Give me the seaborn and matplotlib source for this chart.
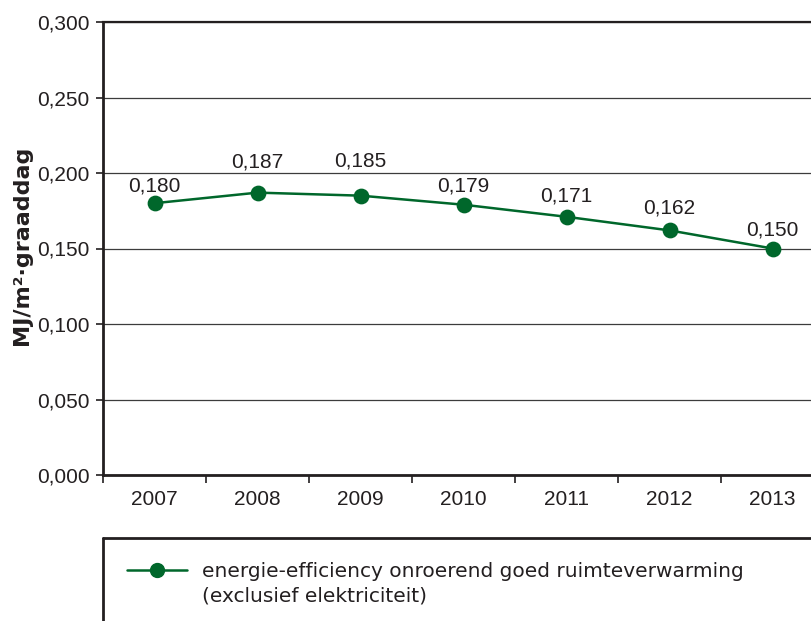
import matplotlib
matplotlib.use("Agg")
import matplotlib.pyplot as plt
import seaborn as sns
import pandas as pd
from matplotlib.lines import Line2D
from matplotlib.ticker import FixedLocator

# ---- data ----
years = ["2007", "2008", "2009", "2010", "2011", "2012", "2013"]
values = [0.180, 0.187, 0.185, 0.179, 0.171, 0.162, 0.150]
value_labels = ["0,180", "0,187", "0,185", "0,179", "0,171", "0,162", "0,150"]
y_ticks = [0.000, 0.050, 0.100, 0.150, 0.200, 0.250, 0.300]
y_tick_labels = ["0,000", "0,050", "0,100", "0,150", "0,200", "0,250", "0,300"]
y_label = "MJ/m²·graaddag"
series_label_lines = ["energie-efficiency onroerend goed ruimteverwarming",
                      "(exclusief elektriciteit)"]

# label offsets above points (pixels)
label_offsets = [17, 31, 35, 19, 21, 22, 19]

GREEN = "#00672b"
DARK = "#231f20"
FS = 15

sns.set_theme(style="white")
plt.rcParams['font.family'] = ['Liberation Sans', 'DejaVu Sans']

W, H = 811, 621
fig = plt.figure(figsize=(W / 100, H / 100), dpi=100)
left, right, top, bottom = 103, 824, 22, 475
ax = fig.add_axes([left / W, (H - bottom) / H, (right - left) / W, (bottom - top) / H])

df = pd.DataFrame({"jaar": years, "waarde": values})
sns.pointplot(data=df, x="jaar", y="waarde", color=GREEN, markers="o",
              markersize=10, linewidth=1.8, errorbar=None, ax=ax)

ax.set_ylim(0, 0.300)
ax.set_xlim(-0.5, len(years) - 0.5)
ax.set_yticks(y_ticks)
ax.set_yticklabels(y_tick_labels, fontsize=FS, color=DARK)
ax.set_xticks(range(len(years)))
ax.set_xticklabels(years, fontsize=FS, color=DARK)
ax.xaxis.set_minor_locator(FixedLocator([i - 0.5 for i in range(len(years) + 1)]))
ax.tick_params(axis="x", which="major", length=0, pad=11)
ax.tick_params(axis="x", which="minor", length=6, width=1.2, color=DARK, bottom=True)
ax.tick_params(axis="y", which="major", length=5, width=1.2, color=DARK, left=True, pad=4.5)
ax.set_xlabel("")
ax.set_ylabel("")

ax.yaxis.grid(True, color="#3c3c3c", linewidth=0.9)
ax.set_axisbelow(True)
for s in ["left", "bottom", "top"]:
    ax.spines[s].set_visible(True)
    ax.spines[s].set_color(DARK)
    ax.spines[s].set_linewidth(2.0)
ax.spines["top"].set_linewidth(1.6)
ax.spines["right"].set_visible(False)

for i, (v, lab) in enumerate(zip(values, value_labels)):
    ax.annotate(lab, (i, v), xytext=(0, label_offsets[i] * 0.72), textcoords="offset points",
                ha="center", va="center", fontsize=FS, color=DARK)

fig.text(22 / W, 1 - 245 / H, y_label, rotation=90, ha="center", va="center",
         fontsize=16, fontweight="bold", color=DARK, family=["DejaVu Sans"])

# legend frame (partially out of figure)
fig.add_artist(Line2D([left / W, 1.0], [1 - 538 / H, 1 - 538 / H], color=DARK, lw=2.0))
fig.add_artist(Line2D([left / W, left / W], [1 - 538 / H, 0], color=DARK, lw=2.0))

handles = [Line2D([], [], color=GREEN, marker="o", markersize=10, linewidth=1.8),
           Line2D([], [], color="none")]
fig.legend(handles, series_label_lines, loc="upper left", bbox_to_anchor=(127 / W, 1 - 562 / H),
           frameon=False, prop={"family": "DejaVu Sans", "size": 14.5},
           handlelength=3.0, handletextpad=0.72,
           labelspacing=0.25, borderpad=0, borderaxespad=0, labelcolor=DARK)

fig.savefig("out.png", dpi=100)
